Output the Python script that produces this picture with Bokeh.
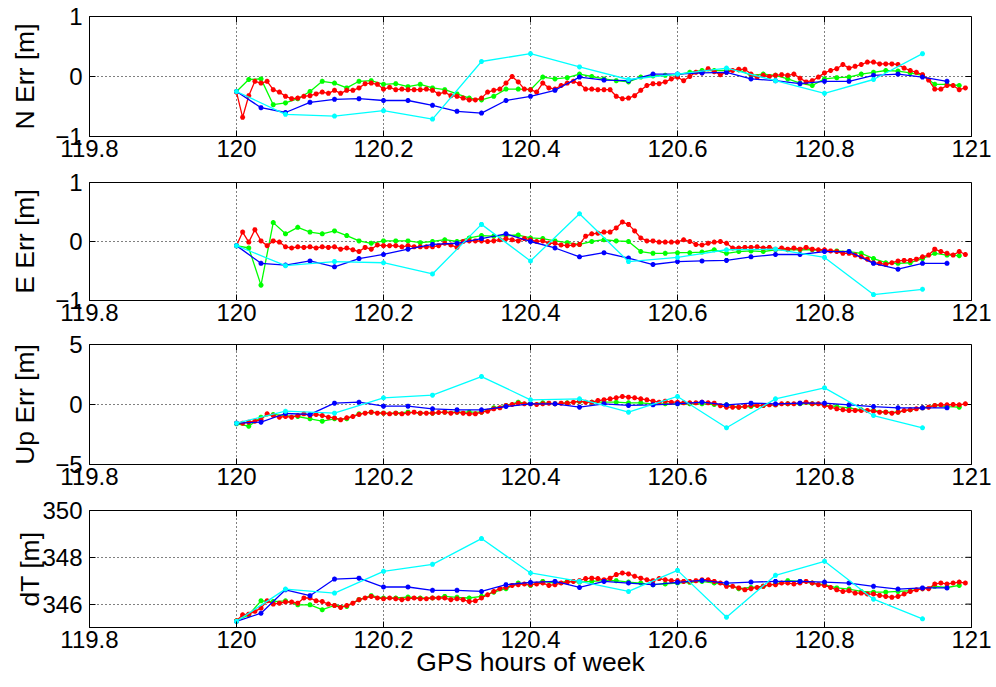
import numpy as np
from bokeh.plotting import figure
from bokeh.layouts import column
from bokeh.models import Range1d, FixedTicker, CustomJSTickFormatter
from bokeh.embed import file_html
from bokeh.resources import INLINE

# ---------------- data ----------------
HOUR0 = 120.0                      # GPS hour of week at the first epoch
RED_STEP_S, GREEN_STEP_S, BLUE_STEP_S, CYAN_STEP_S = 30, 60, 120, 240

X_TICKS = [119.8, 120.0, 120.2, 120.4, 120.6, 120.8, 121.0]
X_LABEL = "GPS hours of week"

N_red = [-0.26, -0.68, -0.32, -0.08, -0.11, -0.08, -0.22, -0.26, -0.33, -0.37,
         -0.36, -0.33, -0.32, -0.29, -0.26, -0.28, -0.23, -0.28, -0.23, -0.23,
         -0.19, -0.12, -0.11, -0.13, -0.21, -0.18, -0.22, -0.21, -0.22, -0.22,
         -0.22, -0.21, -0.23, -0.29, -0.26, -0.32, -0.33, -0.36, -0.39, -0.39,
         -0.36, -0.26, -0.23, -0.21, -0.11, 0.00, -0.09, -0.21, -0.22, -0.26,
         -0.11, -0.19, -0.21, -0.15, -0.11, -0.08, -0.12, -0.21, -0.21, -0.22,
         -0.22, -0.22, -0.33, -0.37, -0.36, -0.32, -0.23, -0.15, -0.12, -0.12,
         -0.09, -0.04, -0.01, -0.07, 0.00, 0.07, 0.06, 0.13, 0.08, 0.03,
         0.07, 0.10, 0.12, 0.12, 0.04, -0.01, 0.02, 0.00, 0.02, 0.03,
         0.02, 0.04, -0.03, -0.09, -0.07, -0.01, 0.06, 0.10, 0.13, 0.20,
         0.14, 0.17, 0.20, 0.24, 0.24, 0.21, 0.21, 0.21, 0.20, 0.14,
         0.10, 0.07, 0.03, -0.06, -0.21, -0.21, -0.15, -0.15, -0.22, -0.19]
N_green = [-0.25, -0.05, -0.04, -0.47, -0.44, -0.37, -0.25, -0.08, -0.11, -0.19,
           -0.08, -0.07, -0.13, -0.12, -0.17, -0.13, -0.19, -0.22, -0.29, -0.36,
           -0.39, -0.33, -0.21, -0.21, -0.22, -0.01, -0.04, -0.02, 0.04, 0.00,
           -0.04, -0.07, -0.09, -0.01, 0.01, 0.02, 0.03, 0.07, 0.10, 0.10,
           0.10, 0.11, 0.02, 0.04, 0.02, -0.04, -0.11, -0.15, -0.04, -0.02,
           -0.01, 0.04, 0.07, 0.10, 0.09, 0.06, 0.02, -0.13, -0.13, -0.15]
N_blue = [-0.25, -0.52, -0.60, -0.43, -0.38, -0.37, -0.40, -0.40, -0.48, -0.58,
          -0.61, -0.40, -0.33, -0.23, -0.01, -0.06, -0.07, 0.04, 0.04, 0.06,
          0.07, -0.04, -0.07, -0.12, -0.08, -0.08, 0.02, 0.04, -0.01, -0.08]
N_cyan = [-0.25, -0.63, -0.66, -0.57, -0.71, 0.25, 0.38, 0.16, -0.05, 0.04,
          0.14, -0.07, -0.28, -0.05, 0.38]

E_red = [-0.07, 0.16, -0.01, 0.20, 0.01, -0.07, 0.01, -0.01, -0.09, -0.11,
         -0.09, -0.10, -0.09, -0.11, -0.09, -0.10, -0.09, -0.13, -0.11, -0.14,
         -0.17, -0.10, -0.13, -0.06, -0.07, -0.07, -0.07, -0.09, -0.07, -0.09,
         -0.09, -0.09, -0.09, -0.07, -0.03, -0.06, -0.10, 0.00, 0.01, 0.01,
         0.01, 0.00, 0.01, 0.03, 0.05, 0.03, 0.01, 0.05, 0.03, 0.00,
         0.01, -0.03, -0.03, -0.06, -0.07, -0.06, -0.05, 0.09, 0.13, 0.14,
         0.16, 0.16, 0.23, 0.33, 0.29, 0.18, 0.06, 0.01, 0.01, -0.01,
         -0.01, -0.01, -0.01, 0.03, 0.00, -0.05, -0.06, -0.03, -0.01, 0.00,
         -0.03, -0.11, -0.11, -0.10, -0.10, -0.09, -0.11, -0.10, -0.13, -0.11,
         -0.13, -0.11, -0.13, -0.10, -0.13, -0.14, -0.14, -0.16, -0.17, -0.20,
         -0.20, -0.23, -0.26, -0.30, -0.36, -0.37, -0.39, -0.36, -0.33, -0.32,
         -0.32, -0.30, -0.26, -0.23, -0.13, -0.17, -0.20, -0.23, -0.17, -0.22]
E_green = [-0.07, -0.11, -0.74, 0.32, 0.13, 0.24, 0.16, 0.13, 0.18, 0.10,
           0.01, -0.03, 0.01, 0.01, 0.01, -0.02, 0.00, 0.03, 0.00, 0.06,
           0.10, 0.09, 0.10, 0.11, 0.06, 0.05, 0.01, -0.02, -0.05, 0.00,
           0.03, 0.01, 0.00, -0.17, -0.20, -0.20, -0.19, -0.19, -0.18, -0.14,
           -0.20, -0.17, -0.16, -0.17, -0.14, -0.14, -0.14, -0.14, -0.16, -0.16,
           -0.17, -0.20, -0.29, -0.36, -0.37, -0.36, -0.29, -0.20, -0.23, -0.24]
E_blue = [-0.07, -0.37, -0.40, -0.33, -0.43, -0.29, -0.22, -0.13, -0.05, -0.03,
          0.05, 0.13, 0.00, -0.11, -0.26, -0.19, -0.28, -0.39, -0.34, -0.33,
          -0.32, -0.26, -0.22, -0.22, -0.17, -0.17, -0.37, -0.47, -0.37, -0.37]
E_cyan = [-0.07, -0.41, -0.34, -0.36, -0.55, 0.29, -0.33, 0.47, -0.34, -0.27,
          -0.14, -0.13, -0.27, -0.90, -0.81]

Up_red = [-1.56, -1.56, -1.47, -1.39, -1.28, -0.78, -0.92, -1.06, -1.00, -1.06,
          -0.92, -0.78, -0.92, -0.83, -0.92, -1.06, -1.11, -1.28, -1.11, -1.00,
          -0.83, -0.72, -0.64, -0.72, -0.72, -0.78, -0.72, -0.78, -0.72, -0.64,
          -0.72, -0.72, -0.72, -0.67, -0.64, -0.72, -0.64, -0.72, -0.78, -0.78,
          -0.64, -0.56, -0.36, -0.28, -0.08, 0.00, 0.11, 0.06, 0.06, 0.00,
          0.06, 0.11, 0.06, 0.11, 0.11, 0.19, 0.28, 0.19, 0.19, 0.33,
          0.39, 0.47, 0.56, 0.67, 0.61, 0.56, 0.47, 0.39, 0.28, 0.19,
          0.28, 0.19, 0.19, 0.14, 0.14, 0.14, 0.19, 0.14, 0.11, -0.10,
          -0.22, -0.22, -0.22, -0.17, -0.08, -0.08, -0.08, -0.03, -0.03, 0.06,
          0.06, 0.06, 0.11, 0.19, 0.06, 0.06, -0.08, -0.22, -0.36, -0.44,
          -0.50, -0.50, -0.50, -0.50, -0.56, -0.64, -0.64, -0.72, -0.64, -0.50,
          -0.44, -0.36, -0.28, -0.22, -0.08, -0.03, -0.03, 0.00, -0.03, 0.06]
Up_green = [-1.61, -1.81, -1.06, -0.83, -0.92, -1.00, -1.19, -1.39, -1.19, -1.19,
            -0.78, -0.64, -0.72, -0.72, -0.64, -0.72, -0.72, -0.64, -0.64, -0.64,
            -0.64, -0.28, -0.08, 0.19, 0.06, 0.14, 0.06, 0.14, 0.25, 0.19,
            0.19, 0.19, 0.14, 0.14, 0.06, 0.06, 0.06, 0.06, 0.06, 0.00,
            -0.03, -0.22, -0.17, -0.08, -0.03, 0.06, 0.06, 0.06, -0.03, -0.17,
            -0.28, -0.44, -0.50, -0.64, -0.64, -0.44, -0.28, -0.08, -0.17, -0.22]
Up_blue = [-1.56, -1.47, -0.75, -0.83, 0.11, 0.19, -0.14, -0.14, -0.36, -0.44,
           -0.44, -0.17, 0.06, 0.06, -0.22, 0.06, -0.08, -0.03, 0.06, 0.19,
           -0.03, 0.11, 0.06, 0.11, 0.11, -0.03, -0.17, -0.28, -0.28, -0.28]
Up_cyan = [-1.56, -0.56, -0.72, 0.56, 0.78, 2.33, 0.39, 0.47, -0.64, 0.67,
           -1.94, 0.47, 1.39, -0.92, -1.94]

dT_red = [345.29, 345.54, 345.57, 345.69, 345.83, 346.14, 346.00, 346.04, 346.09, 346.09,
          346.04, 346.26, 346.26, 346.14, 346.11, 346.00, 345.94, 345.86, 345.94, 346.04,
          346.19, 346.26, 346.33, 346.26, 346.23, 346.26, 346.23, 346.19, 346.23, 346.26,
          346.23, 346.23, 346.26, 346.26, 346.26, 346.19, 346.23, 346.19, 346.11, 346.14,
          346.26, 346.40, 346.54, 346.66, 346.71, 346.80, 346.83, 346.86, 346.83, 346.86,
          346.90, 346.80, 346.83, 346.90, 346.94, 346.97, 347.00, 347.09, 347.11, 347.09,
          347.04, 347.11, 347.26, 347.33, 347.29, 347.19, 347.11, 347.04, 347.00, 347.09,
          347.04, 347.00, 347.00, 346.97, 346.97, 347.00, 347.04, 347.04, 346.97, 346.90,
          346.76, 346.76, 346.69, 346.61, 346.66, 346.71, 346.76, 346.83, 346.83, 346.90,
          346.90, 346.86, 346.90, 346.97, 346.90, 346.83, 346.80, 346.71, 346.61, 346.54,
          346.57, 346.47, 346.47, 346.43, 346.43, 346.37, 346.33, 346.29, 346.33, 346.43,
          346.54, 346.61, 346.66, 346.66, 346.86, 346.90, 346.86, 346.90, 346.94, 346.90]
dT_green = [345.29, 345.54, 346.14, 346.11, 346.14, 345.97, 345.97, 345.76, 345.94, 345.90,
            346.19, 346.36, 346.26, 346.26, 346.30, 346.26, 346.26, 346.33, 346.29, 346.26,
            346.33, 346.51, 346.66, 346.90, 346.80, 346.97, 346.90, 346.97, 346.94, 346.97,
            347.00, 347.00, 346.94, 346.90, 346.83, 346.86, 346.90, 346.93, 346.97, 346.90,
            346.83, 346.66, 346.71, 346.76, 346.86, 347.00, 346.97, 346.90, 346.83, 346.69,
            346.64, 346.54, 346.51, 346.51, 346.54, 346.57, 346.66, 346.76, 346.71, 346.80]
dT_blue = [345.26, 345.61, 346.61, 346.36, 347.07, 347.11, 346.73, 346.73, 346.59, 346.59,
           346.54, 346.83, 346.93, 346.97, 346.71, 346.97, 346.90, 346.83, 346.93, 347.01,
           346.90, 346.94, 346.97, 346.97, 346.94, 346.90, 346.76, 346.64, 346.69, 346.69]
dT_cyan = [345.26, 346.64, 346.47, 347.40, 347.70, 348.80, 347.33, 346.97, 346.54, 347.44,
           345.44, 347.23, 347.83, 346.21, 345.37]

# (y label, y range, y ticks, red, green, blue, cyan)
PANELS = [
    ("N Err [m]", (-1, 1), [-1, 0, 1], N_red, N_green, N_blue, N_cyan),
    ("E Err [m]", (-1, 1), [-1, 0, 1], E_red, E_green, E_blue, E_cyan),
    ("Up Err [m]", (-5, 5), [-5, 0, 5], Up_red, Up_green, Up_blue, Up_cyan),
    ("dT [m]", (345, 350), [346, 348, 350], dT_red, dT_green, dT_blue, dT_cyan),
]


def hours(vals, step_s):
    return HOUR0 + np.arange(len(vals)) * step_s / 3600.0


# ---------------- layout / style ----------------
FONT = "Liberation Sans"
FS = "24px"          # tick labels
LFS = "26.5px"       # axis labels (MATLAB uses 1.1x the tick font)
FRAME_LEFT, FRAME_RIGHT = 89, 25
X_RANGE = (119.8, 121.0)
GEOM = [  # (top border, frame height, bottom border, y-label standoff)
    (16, 120, 30, 12),
    (16, 118, 30, 12),
    (14, 120, 30, 12),
    (16, 117, 60, -6),
]
TICK_LEN = 6

fmt = CustomJSTickFormatter(code="return String(Math.round(tick*10)/10);")

figs = []
for i, (ylab, yr, yt, r, g, b, c) in enumerate(PANELS):
    top, fh, bot, ystand = GEOM[i]
    p = figure(width=996, height=top + fh + bot,
               x_range=Range1d(*X_RANGE), y_range=Range1d(*yr),
               output_backend="svg", toolbar_location=None,
               min_border_left=FRAME_LEFT, min_border_right=FRAME_RIGHT,
               min_border_top=top, min_border_bottom=bot)
    p.background_fill_color = "white"
    p.border_fill_color = "white"
    p.outline_line_color = "black"
    p.outline_line_width = 1

    # grid
    p.xgrid.ticker = FixedTicker(ticks=X_TICKS)
    p.ygrid.ticker = FixedTicker(ticks=yt)
    for gr in (p.xgrid, p.ygrid):
        gr.grid_line_color = "black"
        gr.grid_line_dash = "1 3"
        gr.grid_line_width = 1

    # axes
    xa = p.xaxis[0]
    xa.ticker = FixedTicker(ticks=X_TICKS)
    xa.formatter = fmt
    ya = p.yaxis[0]
    ya.ticker = FixedTicker(ticks=yt)
    ya.axis_label = ylab
    ya.axis_label_standoff = ystand
    if i == 3:
        xa.axis_label = X_LABEL
        xa.axis_label_standoff = -4
    for ax in (xa, ya):
        ax.major_label_text_font = FONT
        ax.major_label_text_font_size = FS
        ax.major_label_text_color = "black"
        ax.axis_label_text_font = FONT
        ax.axis_label_text_font_size = LFS
        ax.axis_label_text_font_style = "normal"
        ax.axis_label_text_color = "black"
        ax.major_tick_in = TICK_LEN
        ax.major_tick_out = 0
        ax.minor_tick_line_color = None
        ax.axis_line_color = "black"
        ax.major_tick_line_color = "black"
    xa.major_label_standoff = 3
    ya.major_label_standoff = 7

    # mirrored inward ticks on the top and right edges of the box
    p.ray(x=X_TICKS, y=[yr[1]] * len(X_TICKS), length=TICK_LEN, length_units="screen",
          angle=-np.pi / 2, line_color="black", line_width=1)
    p.ray(x=[X_RANGE[1]] * len(yt), y=yt, length=TICK_LEN, length_units="screen",
          angle=np.pi, line_color="black", line_width=1)

    # series: green, red, blue, cyan (cyan drawn last)
    for vals, step, col in ((g, GREEN_STEP_S, "#00ff00"), (r, RED_STEP_S, "#ff0000"),
                            (b, BLUE_STEP_S, "#0000ff"), (c, CYAN_STEP_S, "#00ffff")):
        t = hours(vals, step)
        p.line(t, vals, line_color=col, line_width=1.3)
        p.scatter(t, vals, marker="asterisk", size=5, line_color=col, line_width=1.6)

    figs.append(p)

layout = column(*figs, spacing=0)
open("out.html", "w").write(file_html(layout, INLINE))
